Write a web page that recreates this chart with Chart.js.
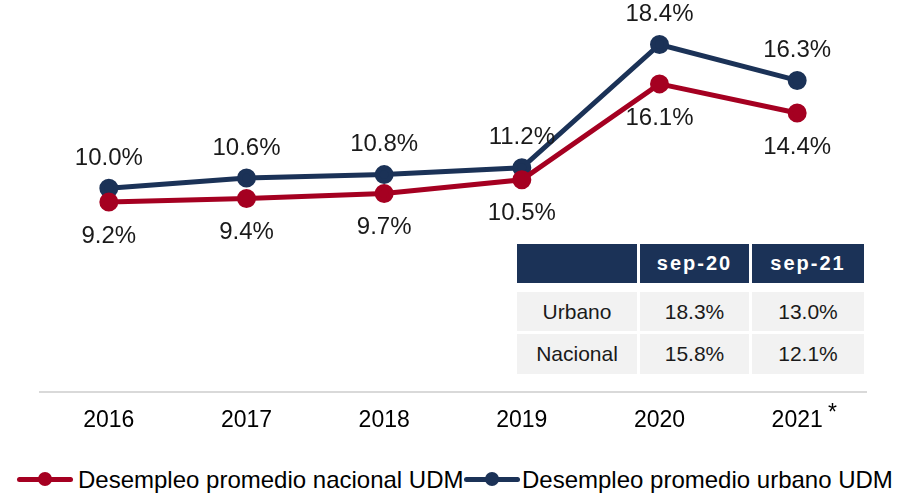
<!DOCTYPE html>
<html><head><meta charset="utf-8">
<script src="https://cdn.jsdelivr.net/npm/chart.js@4"></script>
<style>
html,body{margin:0;padding:0;background:#fff;}
body{width:912px;height:495px;position:relative;overflow:hidden;font-family:"Liberation Sans",Arial,sans-serif;}
#wrap{position:absolute;left:0;top:0;width:912px;height:450px;}
.cell{position:absolute;display:flex;align-items:center;justify-content:center;font-size:21px;color:#1a1a1a;background:#F2F2F2;}
.hd{background:#1B3257;color:#fff;font-weight:bold;font-size:20px;letter-spacing:2px;}
.leg{position:absolute;top:466px;font-size:24px;color:#000;white-space:nowrap;line-height:27px;}
.mk{position:absolute;top:477px;height:5px;border-radius:3px;}
.dot{position:absolute;width:14px;height:14px;border-radius:50%;top:-5px;}
#ast{position:absolute;left:828px;top:401px;font-size:23px;line-height:23px;color:#000;}
</style></head><body>
<div id="wrap"><canvas id="c"></canvas></div>
<div id="ast">*</div>
<div id="table"></div>
<div id="legend"></div>
<script>
const categories = ["2016","2017","2018","2019","2020","2021"];
const nacional = [9.2, 9.4, 9.7, 10.5, 16.1, 14.4];
const urbano = [10.0, 10.6, 10.8, 11.2, 18.4, 16.3];
const seriesNames = ["Desempleo promedio nacional UDM","Desempleo promedio urbano UDM"];
const tableCols = ["", "sep-20", "sep-21"];
const tableRows = [["Urbano","18.3%","13.0%"],["Nacional","15.8%","12.1%"]];
const RED = "#A50021", NAVY = "#1B3257";

const labelPlugin = {
  id: 'lbl',
  afterDatasetsDraw(chart){
    const ctx = chart.ctx;
    ctx.save();
    ctx.font = '24px "Liberation Sans", Arial, sans-serif';
    ctx.fillStyle = '#1a1a1a';
    ctx.textAlign = 'center';
    ctx.textBaseline = 'middle';
    chart.data.datasets.forEach((ds, i) => {
      const meta = chart.getDatasetMeta(i);
      meta.data.forEach((pt, j) => {
        ctx.fillText(ds.data[j].toFixed(1) + '%', pt.x, pt.y + ds.labelOffset);
      });
    });
    ctx.restore();
  }
};

new Chart(document.getElementById('c'), {
  type: 'line',
  data: {
    labels: categories,
    datasets: [
      {label: seriesNames[0], data: nacional, borderColor: RED, backgroundColor: RED, borderWidth: 5, pointRadius: 7, pointHoverRadius: 7, labelOffset: 34, tension: 0},
      {label: seriesNames[1], data: urbano, borderColor: NAVY, backgroundColor: NAVY, borderWidth: 5, pointRadius: 7, pointHoverRadius: 7, labelOffset: -30, tension: 0}
    ]
  },
  options: {
    responsive: true, maintainAspectRatio: false, animation: false,
    layout: {autoPadding: false, padding: {left: 40, right: 46, top: 0, bottom: 0}},
    plugins: {legend: {display: false}, tooltip: {enabled: false}},
    scales: {
      x: {
        offset: true,
        grid: {display: false, drawTicks: false},
        border: {display: true, color: '#D9D9D9', width: 2},
        ticks: {color: '#000', font: {size: 23, family: '"Liberation Sans", Arial, sans-serif'}, padding: 15},
        afterFit(s){ s.height = 58; }
      },
      y: {display: false, min: -1.9, max: 21}
    }
  },
  plugins: [labelPlugin]
});

// table
const colX = [[517,637],[640,749],[752,864]];
const rowY = [[244,283],[292,331],[334,374]];
const tb = document.getElementById('table');
const allRows = [tableCols].concat(tableRows);
allRows.forEach((r, ri) => {
  r.forEach((t, ci) => {
    const d = document.createElement('div');
    d.className = 'cell' + (ri === 0 ? ' hd' : '');
    d.style.left = colX[ci][0] + 'px';
    d.style.width = (colX[ci][1] - colX[ci][0]) + 'px';
    d.style.top = rowY[ri][0] + 'px';
    d.style.height = (rowY[ri][1] - rowY[ri][0]) + 'px';
    d.textContent = t;
    tb.appendChild(d);
  });
});

// legend
const lg = document.getElementById('legend');
const legItems = [{name: seriesNames[0], color: RED, mx: 17, tx: 78}, {name: seriesNames[1], color: NAVY, mx: 464, tx: 522}];
legItems.forEach(it => {
  const m = document.createElement('div');
  m.className = 'mk';
  m.style.left = it.mx + 'px'; m.style.width = '56px'; m.style.background = it.color;
  const dt = document.createElement('div');
  dt.className = 'dot'; dt.style.left = '21px'; dt.style.background = it.color;
  m.appendChild(dt);
  lg.appendChild(m);
  const t = document.createElement('div');
  t.className = 'leg'; t.style.left = it.tx + 'px'; t.textContent = it.name;
  lg.appendChild(t);
});
</script>
</body></html>
